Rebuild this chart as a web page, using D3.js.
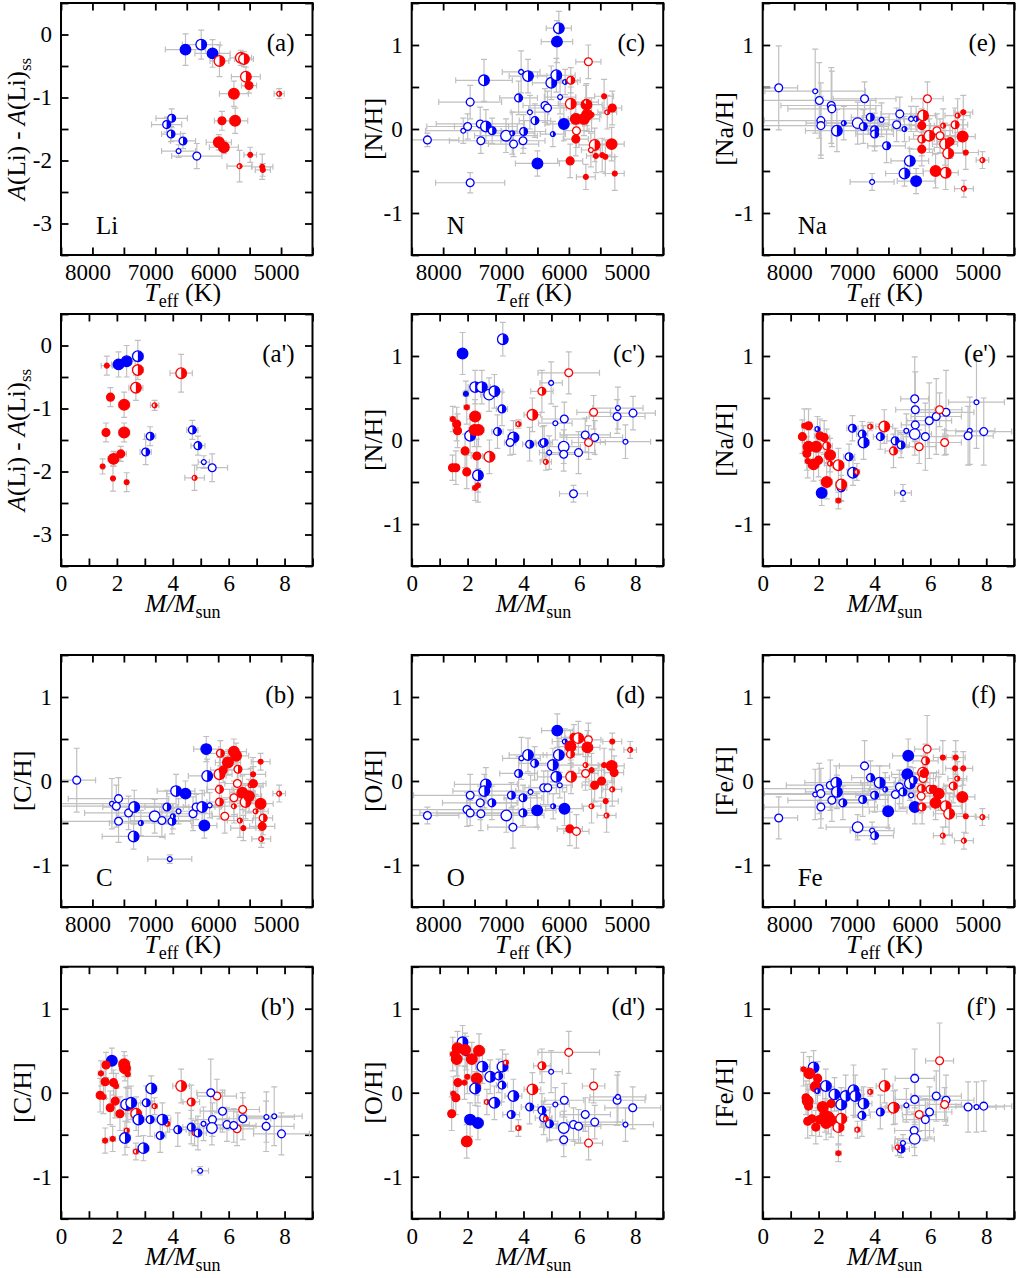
<!DOCTYPE html>
<html>
<head>
<meta charset="utf-8">
<script src="https://cdn.jsdelivr.net/npm/d3@7"></script>
<style>
  body { margin: 0; background: #fff; }
  svg text { font-family: "Liberation Serif", "Times New Roman", serif; fill: #000; }
</style>
</head>
<body>
<div id="chart"></div>
<script>
// point = [x, y, xErr, yErr, marker]; marker = colour (r/b) + fill (f/h/o) + size (s/m/l)
const liTeff = [
  [6520,-0.24,320,0.25,'bfl'],[6270,-0.16,300,0.23,'bhl'],[6090,-0.30,280,0.22,'bfl'],
  [5980,-0.42,150,0.25,'rhl'],[5640,-0.37,170,0.12,'rhl'],[5590,-0.39,150,0.12,'rhl'],
  [5560,-0.67,230,0.15,'rhl'],[5510,-0.81,120,0.12,'rfm'],[5750,-0.94,230,0.20,'rfl'],
  [5030,-0.94,80,0.08,'rhs'],[5940,-1.37,120,0.15,'rfm'],[5730,-1.37,200,0.20,'rfl'],
  [5990,-1.71,200,0.12,'rfl'],[5910,-1.79,230,0.10,'rfl'],[5490,-1.91,100,0.12,'rfs'],
  [5660,-2.09,200,0.25,'rhs'],[5300,-2.10,170,0.20,'rfs'],[5290,-2.15,120,0.10,'rfs'],
  [6740,-1.33,250,0.15,'bhm'],[6820,-1.43,240,0.12,'bhm'],[6750,-1.58,150,0.12,'bhm'],
  [6560,-1.69,200,0.12,'bhm'],[6630,-1.85,270,0.10,'bos'],[6340,-1.93,400,0.20,'bom']
];
const liMass = [
  [2.06,-0.30,0.25,0.20,'bfl'],[2.35,-0.25,0.30,0.25,'bfl'],[2.75,-0.17,0.20,0.25,'bhl'],
  [1.64,-0.32,0.20,0.15,'rfs'],[2.75,-0.39,0.20,0.15,'rhl'],[2.68,-0.67,0.25,0.20,'rhl'],
  [4.30,-0.44,0.40,0.30,'rhl'],[1.77,-0.82,0.10,0.15,'rfm'],[2.26,-0.94,0.20,0.20,'rfl'],
  [3.35,-0.95,0.15,0.08,'rhs'],[1.61,-1.38,0.10,0.15,'rfm'],[2.26,-1.38,0.20,0.15,'rfl'],
  [3.19,-1.44,0.20,0.15,'bhm'],[3.03,-1.69,0.20,0.20,'bhm'],[4.70,-1.34,0.20,0.15,'bhm'],
  [4.90,-1.59,0.25,0.15,'bhm'],[5.11,-1.85,0.20,0.10,'bos'],[5.41,-1.94,0.55,0.22,'bom'],
  [2.14,-1.72,0.20,0.12,'rfm'],[1.88,-1.80,0.20,0.12,'rfl'],[1.49,-1.92,0.05,0.12,'rfs'],
  [1.86,-2.11,0.05,0.20,'rfs'],[2.35,-2.17,0.05,0.15,'rfs'],[4.78,-2.10,0.35,0.20,'rhs']
];
const nTeff = [
  [8250,-0.13,500,0.08,'bom'],[7570,0.32,500,0.20,'bom'],[7570,-0.64,550,0.12,'bom'],
  [7680,-0.02,600,0.15,'bos'],[7610,0.03,650,0.15,'bom'],[7410,0.06,700,0.20,'bom'],
  [7400,-0.14,500,0.15,'bom'],[7350,0.58,450,0.25,'bhl'],[7320,0.03,500,0.20,'bhl'],
  [7220,-0.02,400,0.15,'bhm'],[7000,-0.08,500,0.20,'bol'],[6900,-0.05,350,0.25,'bhs'],
  [6880,-0.18,400,0.15,'bom'],[6800,0.37,300,0.20,'bhm'],[6760,0.68,300,0.25,'bos'],
  [6720,-0.03,350,0.20,'bhm'],[6730,-0.14,350,0.15,'bom'],[6650,0.63,300,0.20,'bhl'],
  [6620,0.20,300,0.20,'bos'],[6540,0.10,250,0.20,'bhm'],[6500,-0.41,350,0.15,'bfl'],
  [6380,0.28,350,0.20,'bom'],[6340,0.25,300,0.20,'bom'],[6280,0.55,300,0.20,'bhl'],
  [6255,-0.06,200,0.15,'bhs'],[6200,0.64,300,0.20,'bhl'],[6190,1.04,250,0.25,'bfl'],
  [6160,1.20,200,0.20,'bhl'],[6140,0.38,250,0.20,'bos'],[6060,0.56,200,0.15,'bhs'],
  [6080,0.06,300,0.20,'bfl'],[5970,0.58,150,0.15,'rhm'],[5970,0.30,200,0.20,'rhl'],
  [5690,0.80,200,0.20,'rom'],[5890,0.12,250,0.20,'rfl'],[5880,-0.02,200,0.20,'rom'],
  [5890,-0.12,200,0.20,'rfm'],[5760,0.12,250,0.20,'rfl'],[5720,0.29,250,0.25,'rfl'],
  [5710,0.17,200,0.20,'rfl'],[5730,0.32,200,0.20,'rhs'],[5980,-0.38,200,0.20,'rfm'],
  [5730,-0.57,150,0.15,'rfs'],[5590,-0.19,250,0.20,'rhl'],[5650,-0.25,150,0.20,'ros'],
  [5570,-0.32,150,0.20,'rfs'],[5470,-0.31,150,0.20,'rfs'],[5420,-0.33,150,0.20,'rfs'],
  [5440,0.39,150,0.20,'rfs'],[5390,0.20,150,0.20,'rhs'],[5310,0.25,150,0.20,'rfm'],
  [5320,-0.18,200,0.20,'rfl'],[5270,-0.53,150,0.20,'rfs'],[5640,0.17,150,0.20,'rfs']
];
const nMass = [
  [1.82,1.03,0.10,0.25,'bfl'],[3.26,1.20,0.15,0.20,'bhl'],[1.94,0.55,0.10,0.15,'bfs'],
  [2.27,0.63,0.25,0.20,'bhl'],[2.51,0.63,0.30,0.20,'bhl'],[2.77,0.54,0.30,0.20,'bol'],
  [2.96,0.58,0.30,0.20,'bhl'],[3.23,0.37,0.20,0.20,'bhm'],[3.07,0.10,0.20,0.20,'bhm'],
  [2.09,0.05,0.20,0.20,'bhl'],[3.64,0.03,0.20,0.20,'bhl'],[3.52,-0.03,0.20,0.15,'bom'],
  [4.22,-0.05,0.25,0.20,'bhm'],[4.68,-0.04,0.30,0.20,'bhm'],[4.74,-0.03,0.30,0.20,'bhm'],
  [4.92,-0.15,0.35,0.20,'bos'],[5.44,-0.08,0.60,0.20,'bol'],[5.44,-0.17,0.60,0.20,'bom'],
  [5.97,-0.15,0.60,0.25,'bom'],[6.21,0.06,0.90,0.20,'bom'],[6.55,0.03,1.00,0.20,'bom'],
  [4.99,0.68,0.40,0.25,'bos'],[5.14,0.20,0.60,0.20,'bos'],[5.46,0.25,0.80,0.20,'bom'],
  [7.38,0.38,0.90,0.25,'bos'],[7.35,0.28,1.00,0.20,'bom'],[7.92,0.32,0.80,0.20,'bom'],
  [7.65,-0.02,0.90,0.20,'bos'],[5.79,-0.64,0.50,0.10,'bom'],[2.37,-0.42,0.10,0.20,'bhl'],
  [5.62,0.80,1.10,0.25,'rom'],[4.66,0.58,0.40,0.25,'rhm'],[4.32,0.30,0.30,0.20,'rhl'],
  [3.82,0.19,0.10,0.05,'rhs'],[6.51,0.33,0.60,0.20,'rom'],[6.33,-0.03,0.60,0.20,'rom'],
  [4.80,-0.26,0.20,0.10,'rhs'],[1.47,0.25,0.10,0.15,'rfs'],[1.61,0.19,0.10,0.20,'rfm'],
  [1.64,0.11,0.10,0.20,'rfm'],[1.97,0.39,0.10,0.20,'rfs'],[2.27,0.28,0.20,0.20,'rfl'],
  [2.25,0.12,0.20,0.20,'rfl'],[2.39,0.12,0.20,0.20,'rfl'],[1.91,-0.13,0.10,0.20,'rfm'],
  [2.33,-0.19,0.20,0.20,'rfm'],[2.78,-0.20,0.20,0.20,'rhl'],[1.46,-0.33,0.10,0.15,'rfm'],
  [1.58,-0.33,0.10,0.20,'rfm'],[1.97,-0.38,0.10,0.20,'rfm'],[2.37,-0.54,0.10,0.20,'rfs'],
  [2.27,-0.57,0.10,0.15,'rfs']
];
const naTeff = [
  [8245,0.49,300,0.50,'bom'],[7665,0.45,800,0.50,'bos'],[7600,0.34,900,0.45,'bom'],
  [7575,0.10,900,0.45,'bom'],[7575,0.04,1000,0.35,'bom'],[7410,0.28,800,0.45,'bom'],
  [7400,0.24,700,0.45,'bom'],[7320,-0.02,500,0.25,'bhl'],[7210,0.07,600,0.20,'bhs'],
  [6990,0.07,500,0.25,'bol'],[6880,0.36,500,0.20,'bom'],[6900,0.03,400,0.20,'bhm'],
  [6790,0.14,300,0.20,'bhm'],[6720,-0.01,300,0.20,'bhm'],[6720,-0.06,300,0.20,'bhm'],
  [6610,0.11,300,0.20,'bos'],[6530,-0.20,300,0.20,'bhm'],[6760,-0.63,350,0.10,'bos'],
  [6370,0.05,300,0.20,'bom'],[6320,0.18,300,0.20,'bom'],[6245,0.00,200,0.15,'bhs'],
  [6140,0.12,200,0.15,'bos'],[6060,0.12,200,0.15,'bhs'],[6160,-0.38,300,0.15,'bhl'],
  [6245,-0.53,300,0.15,'bhl'],[6060,-0.62,300,0.15,'bfl'],[5950,0.16,200,0.20,'rhl'],
  [5970,0.04,200,0.20,'rfm'],[5970,-0.12,200,0.20,'rhm'],[5970,-0.24,200,0.20,'rfm'],
  [5880,0.36,250,0.20,'rom'],[5730,-0.02,250,0.20,'rom'],[5850,-0.08,250,0.20,'rhl'],
  [5680,-0.08,250,0.20,'rom'],[5630,0.04,200,0.20,'rhs'],[5600,-0.18,200,0.25,'rhl'],
  [5750,-0.50,200,0.20,'rfl'],[5590,-0.52,200,0.20,'rhl'],[5550,-0.29,250,0.20,'rhl'],
  [5440,0.05,200,0.20,'rhm'],[5400,0.16,200,0.20,'rhs'],[5310,0.20,150,0.20,'rfs'],
  [5320,-0.09,200,0.20,'rfl'],[5270,-0.28,200,0.20,'rfs'],[5300,-0.71,150,0.10,'rhs'],
  [5005,-0.37,100,0.10,'rhs'],[5520,-0.15,200,0.20,'rfm']
];
const naMass = [
  [5.44,0.49,0.50,0.50,'bom'],[5.46,0.36,0.70,0.45,'bom'],[7.65,0.45,1.00,0.55,'bos'],
  [5.96,0.23,0.80,0.45,'bom'],[6.21,0.28,0.90,0.45,'bom'],[6.56,0.33,1.00,0.50,'bom'],
  [5.46,0.18,0.50,0.20,'bom'],[5.44,0.07,0.60,0.25,'bol'],[5.14,0.11,0.40,0.20,'bos'],
  [5.82,0.04,0.80,0.40,'bom'],[7.41,0.11,0.90,0.40,'bos'],[7.35,0.05,0.90,0.35,'bom'],
  [7.91,0.10,1.00,0.40,'bom'],[5.02,-0.63,0.30,0.10,'bos'],[1.96,0.13,0.10,0.15,'bhs'],
  [3.21,0.14,0.20,0.15,'bhm'],[3.56,0.07,0.20,0.15,'bhm'],[3.61,-0.03,0.20,0.20,'bhl'],
  [4.21,0.04,0.25,0.15,'bhm'],[4.74,-0.01,0.30,0.15,'bhm'],[4.95,-0.06,0.30,0.15,'bhm'],
  [3.09,-0.20,0.20,0.15,'bhm'],[3.23,-0.39,0.20,0.15,'bhl'],[2.11,-0.63,0.15,0.15,'bfl'],
  [2.81,-0.57,0.20,0.15,'bhm'],[1.49,0.17,0.10,0.20,'rfs'],[1.64,0.17,0.10,0.20,'rfm'],
  [1.42,0.04,0.10,0.20,'rfm'],[1.58,-0.16,0.10,0.20,'rfm'],[1.64,-0.08,0.10,0.20,'rfl'],
  [1.91,-0.08,0.20,0.20,'rfl'],[1.61,-0.25,0.10,0.20,'rfs'],[1.82,-0.29,0.20,0.20,'rfl'],
  [2.00,-0.24,0.20,0.20,'rfm'],[2.05,0.05,0.20,0.20,'rfm'],[2.20,0.03,0.20,0.20,'rfm'],
  [2.29,-0.07,0.20,0.20,'rhm'],[2.41,-0.18,0.20,0.20,'rfl'],[2.41,-0.28,0.20,0.20,'rhs'],
  [2.29,-0.50,0.20,0.20,'rfl'],[2.71,-0.30,0.20,0.20,'rhl'],[2.81,-0.53,0.20,0.20,'rhl'],
  [2.71,-0.72,0.10,0.10,'rfs'],[3.37,-0.38,0.10,0.10,'rhs'],[3.85,0.16,0.10,0.05,'rhs'],
  [4.35,0.16,0.30,0.20,'rhl'],[4.68,-0.13,0.30,0.20,'rhm'],[5.60,-0.08,0.60,0.20,'rom'],
  [6.33,0.36,0.80,0.20,'rom'],[6.51,-0.03,0.60,0.15,'rom']
];
const cTeff = [
  [8250,0.01,300,0.38,'bom'],[7690,-0.27,900,0.30,'bos'],[7620,-0.30,900,0.25,'bom'],
  [7585,-0.21,800,0.25,'bom'],[7585,-0.48,900,0.25,'bom'],[7425,-0.38,700,0.20,'bom'],
  [7335,-0.31,500,0.20,'bhl'],[7345,-0.66,500,0.15,'bhl'],[7230,-0.50,500,0.15,'bhs'],
  [7010,-0.42,600,0.20,'bol'],[6895,-0.47,500,0.20,'bom'],[6815,-0.31,350,0.20,'bhm'],
  [6735,-0.48,300,0.15,'bhm'],[6720,-0.42,300,0.15,'bhs'],[6630,-0.36,300,0.15,'bos'],
  [6670,-0.12,300,0.20,'bhl'],[6520,-0.15,300,0.15,'bfl'],[6770,-0.93,350,0.05,'bos'],
  [6400,-0.39,300,0.20,'bom'],[6350,-0.31,300,0.15,'bom'],[6255,-0.31,300,0.20,'bhl'],
  [6135,-0.29,200,0.15,'bos'],[6190,0.38,200,0.15,'bfl'],[6175,0.06,300,0.20,'bhl'],
  [6220,-0.53,200,0.15,'bfl'],[5965,0.33,200,0.15,'rhm'],[5980,0.08,200,0.20,'rhl'],
  [5920,0.13,200,0.15,'rfm'],[5845,0.22,200,0.15,'rfl'],[5750,0.35,200,0.15,'rfl'],
  [5715,0.30,200,0.15,'rfl'],[5685,0.14,200,0.15,'rhm'],[5695,-0.03,200,0.20,'rom'],
  [5980,-0.10,200,0.20,'rhm'],[5980,-0.25,200,0.20,'rhm'],[5750,-0.20,200,0.20,'rom'],
  [5750,-0.30,200,0.20,'rhs'],[5895,-0.42,200,0.20,'rom'],[5655,-0.47,200,0.20,'rhs'],
  [5600,-0.56,200,0.15,'rfs'],[5615,-0.14,200,0.20,'rfl'],[5565,-0.25,250,0.20,'rhl'],
  [5510,-0.18,200,0.20,'rfl'],[5485,-0.05,200,0.20,'rhs'],[5445,0.08,200,0.20,'rfs'],
  [5440,-0.03,200,0.20,'rfm'],[5405,-0.36,200,0.20,'rhs'],[5325,-0.27,200,0.20,'rfl'],
  [5325,0.23,150,0.10,'rfs'],[5285,-0.44,150,0.20,'rhm'],[5300,-0.54,200,0.20,'rfm'],
  [5315,-0.69,150,0.10,'rhs'],[5030,-0.15,100,0.10,'rhs']
];
const cMass = [
  [1.82,0.38,0.15,0.15,'bfl'],[1.61,0.33,0.10,0.15,'rfm'],[2.26,0.34,0.20,0.15,'rfl'],
  [2.29,0.29,0.20,0.15,'rfl'],[2.39,0.22,0.10,0.15,'rfs'],[1.43,0.23,0.10,0.15,'rfs'],
  [1.58,0.13,0.10,0.20,'rfm'],[1.88,0.12,0.10,0.15,'rfm'],[1.97,0.08,0.10,0.15,'rfs'],
  [1.40,-0.03,0.10,0.20,'rfm'],[1.52,-0.05,0.10,0.20,'rfs'],[1.94,-0.10,0.10,0.20,'rfm'],
  [1.76,-0.18,0.10,0.20,'rfm'],[2.11,-0.25,0.20,0.20,'rfm'],[2.39,-0.15,0.20,0.20,'rfl'],
  [2.69,-0.25,0.20,0.20,'rhl'],[2.35,-0.45,0.10,0.20,'rhs'],[1.58,-0.57,0.10,0.15,'rfs'],
  [1.85,-0.55,0.10,0.15,'rfs'],[2.68,-0.70,0.10,0.10,'rhs'],[3.35,-0.16,0.10,0.10,'rhs'],
  [3.81,-0.37,0.10,0.10,'rhs'],[4.30,0.08,0.30,0.20,'rhl'],[4.66,-0.11,0.30,0.20,'rhm'],
  [4.78,-0.48,0.20,0.15,'rhs'],[5.58,-0.04,0.70,0.20,'rom'],[6.30,-0.43,0.60,0.20,'rom'],
  [6.50,-0.20,0.60,0.20,'rom'],[2.33,-0.14,0.20,0.20,'bhl'],[2.51,-0.12,0.20,0.20,'bhl'],
  [2.29,-0.54,0.20,0.20,'bhl'],[2.77,-0.32,0.20,0.20,'bhl'],[2.95,-0.66,0.20,0.15,'bhl'],
  [3.05,-0.12,0.20,0.20,'bhm'],[3.19,-0.32,0.20,0.20,'bhm'],[3.23,0.05,0.20,0.15,'bhl'],
  [3.63,-0.32,0.30,0.20,'bhl'],[3.55,-0.51,0.20,0.20,'bhm'],[4.18,-0.44,0.30,0.20,'bhm'],
  [4.66,-0.41,0.30,0.20,'bhm'],[4.90,-0.48,0.30,0.20,'bhm'],[5.10,-0.37,0.40,0.20,'bos'],
  [5.36,0.00,0.50,0.40,'bom'],[5.42,-0.32,0.60,0.20,'bom'],[5.40,-0.42,0.60,0.20,'bol'],
  [5.78,-0.22,0.80,0.25,'bom'],[5.94,-0.38,0.80,0.20,'bom'],[6.18,-0.39,0.80,0.20,'bom'],
  [6.51,-0.31,1.00,0.25,'bom'],[7.35,-0.29,1.00,0.30,'bos'],[7.63,-0.28,1.00,0.35,'bos'],
  [7.34,-0.40,1.00,0.30,'bom'],[7.89,-0.49,1.00,0.25,'bom'],[4.98,-0.93,0.30,0.05,'bos']
];
const oTeff = [
  [8250,-0.41,500,0.10,'bom'],[7570,-0.17,900,0.25,'bom'],[7620,-0.34,900,0.20,'bom'],
  [7570,-0.38,800,0.15,'bom'],[7410,-0.26,600,0.20,'bom'],[7400,-0.39,700,0.20,'bom'],
  [7320,-0.04,500,0.20,'bhl'],[7345,-0.12,500,0.20,'bhl'],[7225,-0.26,400,0.20,'bhm'],
  [6995,-0.41,600,0.20,'bol'],[6915,-0.17,400,0.15,'bhm'],[6890,-0.55,400,0.25,'bom'],
  [6800,0.09,300,0.20,'bhm'],[6730,-0.20,300,0.15,'bhm'],[6730,-0.38,300,0.15,'bhm'],
  [6755,0.27,300,0.25,'bos'],[6650,0.31,300,0.20,'bhl'],[6545,0.21,250,0.20,'bhm'],
  [6610,-0.13,300,0.20,'bos'],[6505,-0.35,300,0.20,'bfl'],[6400,-0.08,300,0.20,'bom'],
  [6335,-0.08,300,0.20,'bom'],[6255,0.19,300,0.20,'bhl'],[6200,0.05,300,0.20,'bhl'],
  [6185,0.60,250,0.20,'bfl'],[6160,0.31,250,0.20,'bhl'],[6145,-0.05,200,0.15,'bos'],
  [6065,0.47,200,0.15,'bhs'],[6250,-0.30,200,0.15,'bhs'],[6070,-0.33,300,0.20,'bfl'],
  [5975,0.41,200,0.20,'rfl'],[5975,0.32,200,0.20,'rhm'],[5965,0.05,250,0.20,'rhl'],
  [5920,0.52,200,0.15,'rfm'],[5850,0.51,200,0.20,'rhl'],[5690,0.49,200,0.20,'rom'],
  [5705,0.40,200,0.20,'rfl'],[5735,0.09,200,0.20,'rom'],[5735,0.19,200,0.20,'rhs'],
  [5640,0.13,200,0.20,'rfs'],[5590,-0.05,200,0.20,'rfm'],[5640,-0.30,150,0.20,'rhs'],
  [5985,-0.57,200,0.20,'rfm'],[5880,-0.60,200,0.20,'rom'],[5480,0.00,200,0.20,'rfm'],
  [5440,0.19,200,0.20,'rfs'],[5415,-0.24,200,0.20,'rfs'],[5400,-0.41,150,0.20,'rhs'],
  [5320,0.18,200,0.20,'rfl'],[5310,0.47,150,0.10,'rfs'],[5280,0.10,150,0.20,'rfm'],
  [5310,-0.10,150,0.20,'rhs'],[5025,0.37,100,0.10,'rhs']
];
const oMass = [
  [1.82,0.60,0.15,0.20,'bhl'],[1.95,0.47,0.10,0.20,'bhs'],[1.47,0.46,0.10,0.20,'rfs'],
  [1.64,0.53,0.10,0.20,'rfl'],[1.61,0.40,0.10,0.20,'rfl'],[1.91,0.51,0.20,0.20,'rfl'],
  [2.41,0.50,0.20,0.20,'rfl'],[2.15,0.40,0.20,0.20,'rfl'],[2.33,0.17,0.20,0.20,'rfl'],
  [1.65,0.12,0.10,0.20,'rfm'],[1.99,0.19,0.10,0.20,'rfs'],[1.89,0.12,0.10,0.20,'rfs'],
  [1.49,-0.01,0.10,0.20,'rfs'],[1.58,-0.06,0.10,0.20,'rfm'],[1.43,-0.25,0.10,0.20,'rfm'],
  [2.37,0.08,0.10,0.20,'rfs'],[2.69,-0.11,0.10,0.15,'rhs'],[1.97,-0.58,0.10,0.20,'rfl'],
  [2.09,-0.32,0.20,0.20,'bfl'],[2.37,-0.36,0.20,0.20,'bfl'],[2.27,0.05,0.20,0.20,'bhl'],
  [2.53,0.31,0.25,0.20,'bhl'],[2.81,0.19,0.25,0.20,'bhl'],[3.11,0.20,0.20,0.20,'bhm'],
  [3.25,0.31,0.20,0.20,'bhl'],[3.23,0.09,0.20,0.20,'bhm'],[2.96,-0.12,0.25,0.20,'bhl'],
  [3.64,-0.04,0.30,0.20,'bhl'],[3.56,-0.26,0.30,0.20,'bhm'],[4.22,-0.17,0.30,0.20,'bhm'],
  [4.66,-0.21,0.30,0.20,'bhm'],[4.72,-0.30,0.30,0.20,'bhm'],[4.93,-0.37,0.30,0.20,'bhm'],
  [4.99,0.25,0.40,0.25,'bos'],[5.14,-0.14,0.50,0.20,'bos'],[5.46,-0.09,0.70,0.20,'bom'],
  [5.44,-0.42,0.70,0.20,'bol'],[5.44,-0.56,0.60,0.20,'bom'],[5.79,-0.38,0.80,0.20,'bom'],
  [5.97,-0.40,0.80,0.20,'bom'],[6.21,-0.26,0.90,0.20,'bom'],[6.55,-0.35,1.00,0.20,'bom'],
  [7.35,-0.09,1.00,0.30,'bom'],[7.38,-0.05,1.00,0.30,'bos'],[7.91,-0.18,1.00,0.25,'bom'],
  [7.65,-0.38,1.00,0.20,'bos'],[3.37,0.36,0.10,0.10,'rhs'],[3.82,-0.42,0.10,0.10,'rhs'],
  [4.32,0.04,0.30,0.20,'rhl'],[4.66,0.32,0.30,0.20,'rhm'],[4.80,-0.31,0.20,0.10,'rhs'],
  [5.62,0.48,1.10,0.25,'rom'],[6.51,0.08,0.40,0.20,'rom'],[6.33,-0.60,0.50,0.20,'rom']
];
const feTeff = [
  [8245,-0.44,300,0.25,'bom'],[7665,-0.16,900,0.30,'bos'],[7600,-0.09,900,0.30,'bom'],
  [7575,-0.15,900,0.30,'bom'],[7575,-0.31,900,0.25,'bom'],[7425,-0.05,700,0.30,'bom'],
  [7400,-0.23,700,0.25,'bom'],[7330,-0.02,500,0.20,'bhl'],[7320,-0.13,500,0.20,'bhl'],
  [7225,-0.26,400,0.20,'bhm'],[6990,-0.55,500,0.15,'bol'],[6910,-0.22,400,0.20,'bhm'],
  [6880,0.18,400,0.30,'bom'],[6785,0.04,300,0.20,'bhm'],[6760,-0.59,350,0.10,'bos'],
  [6720,-0.65,300,0.10,'bhm'],[6720,-0.17,300,0.20,'bhm'],[6640,-0.02,300,0.20,'bhl'],
  [6550,-0.10,250,0.20,'bhs'],[6505,-0.36,300,0.20,'bfl'],[6390,-0.16,300,0.20,'bom'],
  [6325,-0.07,300,0.20,'bom'],[6270,-0.13,300,0.20,'bhm'],[6185,0.30,250,0.20,'bfl'],
  [6200,0.08,250,0.20,'bfl'],[6160,-0.03,250,0.20,'bhl'],[6140,-0.17,200,0.15,'bos'],
  [6105,0.01,200,0.15,'bhm'],[6080,-0.31,250,0.20,'bfl'],[5885,0.38,200,0.40,'rom'],
  [5910,0.24,200,0.20,'rhm'],[5950,0.10,250,0.20,'rhl'],[5950,0.03,200,0.20,'rom'],
  [5935,0.09,200,0.20,'rfm'],[5975,-0.09,200,0.20,'rhm'],[5980,-0.18,200,0.20,'rom'],
  [5965,-0.31,200,0.20,'rhm'],[5840,-0.10,200,0.20,'rhm'],[5785,-0.10,200,0.20,'rfm'],
  [5700,-0.15,250,0.20,'rfl'],[5750,-0.26,250,0.20,'rfl'],[5590,-0.30,250,0.25,'rhl'],
  [5535,-0.39,250,0.25,'rhl'],[5635,0.28,150,0.20,'rfs'],[5635,-0.65,150,0.10,'rhs'],
  [5430,0.28,150,0.20,'rfs'],[5440,0.15,150,0.20,'rfs'],[5405,0.03,150,0.20,'rhs'],
  [5470,-0.06,150,0.20,'rhm'],[5310,0.15,150,0.20,'rfs'],[5325,-0.19,200,0.20,'rfl'],
  [5270,-0.42,150,0.20,'rfs'],[5300,-0.71,150,0.10,'rhs'],[5005,-0.43,100,0.10,'rhs']
];
const feMass = [
  [1.82,0.30,0.15,0.20,'bhl'],[1.46,0.28,0.10,0.20,'rfs'],[1.67,0.23,0.10,0.20,'rfl'],
  [1.97,0.17,0.10,0.20,'rfm'],[1.90,0.07,0.20,0.20,'rfl'],[1.96,0.02,0.10,0.20,'bhs'],
  [1.55,-0.06,0.10,0.20,'rfm'],[1.61,-0.10,0.10,0.20,'rfl'],[1.64,-0.16,0.10,0.20,'rfm'],
  [1.61,-0.34,0.10,0.20,'rfm'],[1.76,-0.31,0.10,0.20,'rfm'],[1.90,-0.41,0.10,0.20,'rfm'],
  [2.03,-0.32,0.10,0.20,'rfm'],[2.15,-0.17,0.20,0.20,'rfl'],[2.23,-0.27,0.20,0.20,'rfl'],
  [2.35,-0.29,0.20,0.20,'rfl'],[2.27,-0.36,0.20,0.20,'rfl'],[2.45,-0.13,0.20,0.20,'rfm'],
  [2.45,-0.33,0.20,0.20,'rfl'],[2.26,0.08,0.20,0.20,'bhl'],[2.57,-0.02,0.20,0.20,'bhl'],
  [2.81,-0.14,0.20,0.20,'bhl'],[2.97,-0.04,0.30,0.25,'bhl'],[3.25,0.03,0.30,0.30,'bhl'],
  [3.31,-0.04,0.30,0.25,'bhl'],[3.61,-0.13,0.30,0.20,'bhl'],[3.55,-0.27,0.30,0.25,'bhm'],
  [4.21,-0.23,0.40,0.20,'bhm'],[4.74,-0.17,0.50,0.20,'bhm'],[4.95,-0.67,0.30,0.10,'bhm'],
  [5.02,-0.60,0.30,0.10,'bos'],[5.14,-0.15,0.70,0.20,'bos'],[5.44,0.17,0.70,0.35,'bom'],
  [5.44,-0.08,0.70,0.30,'bom'],[5.42,-0.45,0.70,0.20,'bom'],[5.44,-0.55,0.70,0.20,'bol'],
  [5.97,-0.23,0.80,0.30,'bom'],[5.82,-0.32,0.80,0.25,'bom'],[6.21,-0.04,0.90,0.30,'bom'],
  [6.56,-0.09,1.00,0.30,'bom'],[7.35,-0.17,1.00,0.30,'bom'],[7.65,-0.17,1.00,0.30,'bos'],
  [7.91,-0.16,1.00,0.30,'bom'],[4.36,0.08,0.30,0.20,'rhl'],[4.68,-0.18,0.30,0.20,'rhl'],
  [4.83,-0.65,0.20,0.10,'rhs'],[3.85,0.01,0.10,0.05,'rhs'],[3.39,-0.44,0.10,0.10,'rhs'],
  [2.71,-0.41,0.20,0.20,'rhl'],[2.81,-0.31,0.20,0.20,'rhl'],[2.71,-0.72,0.10,0.10,'rfs'],
  [5.60,-0.26,0.60,0.20,'rom'],[6.33,0.38,0.50,0.45,'rom'],[6.51,-0.14,0.60,0.20,'rom']
];

// axis ticks and labels
const teffTicks = d3.range(4500, 8501, 500);
const teffLabels = [5000, 6000, 7000, 8000];
const massTicks = d3.range(0, 10, 1);
const massLabels = [0, 2, 4, 6, 8];
const abTicks = [-1.5, -1, -0.5, 0, 0.5, 1, 1.5];
const abLabels = [-1, 0, 1];
const liTicks = [-3.5, -3, -2.5, -2, -1.5, -1, -0.5, 0, 0.5];
const liLabels = [-3, -2, -1, 0];

const panels = [
  { data: liTeff, kind: 'teff', el: 'Li', tag: '(a)',   col: 0, row: 0 },
  { data: nTeff,  kind: 'teff', el: 'N',  tag: '(c)',   col: 1, row: 0 },
  { data: naTeff, kind: 'teff', el: 'Na', tag: '(e)',   col: 2, row: 0 },
  { data: liMass, kind: 'mass', el: 'Li', tag: "(a')",  col: 0, row: 1 },
  { data: nMass,  kind: 'mass', el: 'N',  tag: "(c')",  col: 1, row: 1 },
  { data: naMass, kind: 'mass', el: 'Na', tag: "(e')",  col: 2, row: 1 },
  { data: cTeff,  kind: 'teff', el: 'C',  tag: '(b)',   col: 0, row: 2 },
  { data: oTeff,  kind: 'teff', el: 'O',  tag: '(d)',   col: 1, row: 2 },
  { data: feTeff, kind: 'teff', el: 'Fe', tag: '(f)',   col: 2, row: 2 },
  { data: cMass,  kind: 'mass', el: 'C',  tag: "(b')",  col: 0, row: 3 },
  { data: oMass,  kind: 'mass', el: 'O',  tag: "(d')",  col: 1, row: 3 },
  { data: feMass, kind: 'mass', el: 'Fe', tag: "(f')",  col: 2, row: 3 }
];

// layout
const COLS = [61, 411.7, 762.7];
const ROWS = [3, 314, 655, 966.7];
const PW = 251.5, PH = 252;
const TICK = 7.5;
const FONT = '"Liberation Serif", "Times New Roman", serif';

const colour = d3.scaleOrdinal().domain(['r', 'b']).range(['#ff0000', '#0000ff']);
const radius = d3.scaleOrdinal().domain(['s', 'm', 'l']).range([2.4, 3.9, 5.3]);

const svg = d3.select('#chart').append('svg')
  .attr('width', 1019).attr('height', 1278)
  .style('display', 'block');

const defs = svg.append('defs');

panels.forEach((p, i) => drawPanel(p, i));

function drawPanel(p, i) {
  const isLi = p.el === 'Li';
  const g = svg.append('g')
    .attr('transform', `translate(${COLS[p.col]},${ROWS[p.row]})`);

  const x = p.kind === 'teff'
    ? d3.scaleLinear().domain([8500, 4500]).range([0, PW])
    : d3.scaleLinear().domain([0, 9]).range([0, PW]);
  const y = d3.scaleLinear()
    .domain(isLi ? [-3.5, 0.5] : [-1.5, 1.5])
    .range([PH, 0]);

  const xt = p.kind === 'teff' ? teffTicks : massTicks;
  const xl = p.kind === 'teff' ? teffLabels : massLabels;
  const yt = isLi ? liTicks : abTicks;
  const yl = isLi ? liLabels : abLabels;

  // axes, ticks pointing inward on all sides
  const bottom = g.append('g').attr('transform', `translate(0,${PH})`)
    .call(d3.axisBottom(x).tickValues(xt).tickFormat(d => xl.includes(d) ? d : '')
      .tickSizeInner(-TICK).tickSizeOuter(0).tickPadding(9));
  // the temperature labels sit a little left of their ticks in the original
  if (p.kind === 'teff') bottom.selectAll('text').attr('dx', -5);

  const axes = [
    bottom,
    g.append('g')
      .call(d3.axisTop(x).tickValues(xt).tickFormat(() => '').tickSizeInner(-TICK).tickSizeOuter(0)),
    g.append('g')
      .call(d3.axisLeft(y).tickValues(yt).tickFormat(d => yl.includes(d) ? d : '')
        .tickSizeInner(-TICK).tickSizeOuter(0).tickPadding(9)),
    g.append('g').attr('transform', `translate(${PW},0)`)
      .call(d3.axisRight(y).tickValues(yt).tickFormat(() => '').tickSizeInner(-TICK).tickSizeOuter(0))
  ];
  axes.forEach(a => {
    a.select('.domain').remove();
    a.selectAll('.tick line').attr('stroke', '#000').attr('stroke-width', 1.8);
    a.attr('font-family', FONT).attr('font-size', 23);
    a.selectAll('text').attr('fill', '#000');
  });

  // data region
  defs.append('clipPath').attr('id', `clip${i}`)
    .append('rect').attr('width', PW).attr('height', PH);
  const plot = g.append('g').attr('clip-path', `url(#clip${i})`);

  const bars = plot.append('g')
    .attr('stroke', '#c0c0c0').attr('stroke-width', 1.2).attr('fill', 'none');
  p.data.forEach(([vx, vy, ex, ey]) => {
    const cx = x(vx), cy = y(vy);
    const x0 = x(vx - ex), x1 = x(vx + ex);
    const y0 = y(vy - ey), y1 = y(vy + ey);
    bars.append('path').attr('d',
      `M${x0},${cy}H${x1}M${x0},${cy - 3}V${cy + 3}M${x1},${cy - 3}V${cy + 3}` +
      `M${cx},${y0}V${y1}M${cx - 3},${y0}H${cx + 3}M${cx - 3},${y1}H${cx + 3}`);
  });

  const marks = plot.selectAll('g.mark')
    .data(p.data)
    .join('g')
    .attr('class', 'mark')
    .attr('transform', d => `translate(${x(d[0])},${y(d[1])})`);

  marks.append('circle')
    .attr('r', d => radius(d[4][2]))
    .attr('fill', d => d[4][1] === 'f' ? colour(d[4][0]) : '#fff')
    .attr('stroke', d => colour(d[4][0]))
    .attr('stroke-width', 1.3);

  // half-filled symbols: right half solid
  marks.filter(d => d[4][1] === 'h')
    .append('path')
    .attr('d', d => {
      const r = radius(d[4][2]);
      return `M0,${-r}A${r},${r} 0 0 1 0,${r}Z`;
    })
    .attr('fill', d => colour(d[4][0]));

  // frame
  g.append('rect')
    .attr('width', PW).attr('height', PH)
    .attr('fill', 'none').attr('stroke', '#000').attr('stroke-width', 2);

  // panel tag and element name
  g.append('text')
    .attr('x', PW - 18).attr('y', 48)
    .attr('text-anchor', 'end').attr('font-size', 25)
    .text(p.tag);

  if (p.kind === 'teff') {
    g.append('text')
      .attr('x', 35).attr('y', PH - 21)
      .attr('font-size', 25)
      .text(p.el);
  }

  // x title
  const xTitle = g.append('text')
    .attr('x', PW / 2 - 4).attr('y', PH + 46)
    .attr('text-anchor', 'middle').attr('font-size', 26);
  if (p.kind === 'teff') {
    xTitle.append('tspan').attr('font-style', 'italic').text('T');
    xTitle.append('tspan').attr('font-size', 18).attr('dy', 6).text('eff');
    xTitle.append('tspan').attr('dy', -6).text(' (K)');
  } else {
    xTitle.append('tspan').attr('font-style', 'italic').text('M/M');
    xTitle.append('tspan').attr('font-size', 18).attr('dy', 6).text('sun');
  }

  // y title
  const yTitle = g.append('text')
    .attr('transform', `translate(${isLi ? -36 : -30},${PH / 2}) rotate(-90)`)
    .attr('text-anchor', 'middle').attr('font-size', isLi ? 25 : 26);
  if (isLi) {
    yTitle.append('tspan').attr('font-style', 'italic').text('A');
    yTitle.append('tspan').text('(Li) - ');
    yTitle.append('tspan').attr('font-style', 'italic').text('A');
    yTitle.append('tspan').text('(Li)');
    yTitle.append('tspan').attr('font-size', 17).attr('dy', 6).text('ss');
  } else {
    yTitle.text(`[${p.el}/H]`);
  }
}
</script>
</body>
</html>
